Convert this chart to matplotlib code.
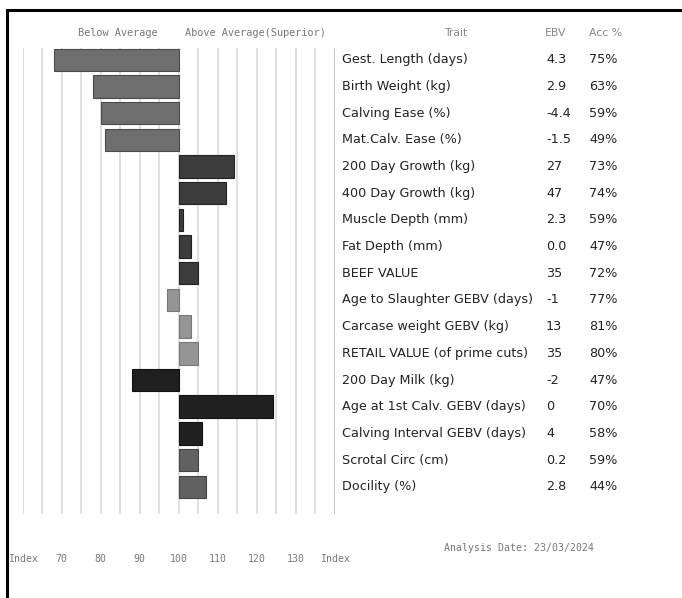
import matplotlib
matplotlib.use("Agg")
import matplotlib.pyplot as plt
from matplotlib.transforms import blended_transform_factory
from matplotlib.lines import Line2D

# Dati del grafico
tratti = ["Gest. Length (days)", "Birth Weight (kg)", "Calving Ease (%)", "Mat.Calv. Ease (%)",
          "200 Day Growth (kg)", "400 Day Growth (kg)", "Muscle Depth (mm)", "Fat Depth (mm)",
          "BEEF VALUE", "Age to Slaughter GEBV (days)", "Carcase weight GEBV (kg)",
          "RETAIL VALUE (of prime cuts)", "200 Day Milk (kg)", "Age at 1st Calv. GEBV (days)",
          "Calving Interval GEBV (days)", "Scrotal Circ (cm)", "Docility (%)"]
ebv = ["4.3", "2.9", "-4.4", "-1.5", "27", "47", "2.3", "0.0", "35", "-1", "13", "35",
       "-2", "0", "4", "0.2", "2.8"]
accuratezza = ["75%", "63%", "59%", "49%", "73%", "74%", "59%", "47%", "72%", "77%", "81%",
               "80%", "47%", "70%", "58%", "59%", "44%"]
indice = [68, 78, 80, 81, 114, 112, 101, 103, 105, 97, 103, 105, 88, 124, 106, 105, 107]
gruppo = [0, 0, 0, 0, 1, 1, 1, 1, 1, 2, 2, 2, 3, 3, 3, 4, 4]

tick_pos = [60, 70, 80, 90, 100, 110, 120, 130, 140]
tick_lab = ["Index", "70", "80", "90", "100", "110", "120", "130", "Index"]

colori = ["#6e6e6e", "#3c3c3c", "#959595", "#202020", "#616161"]
bordi = ["#4a4a4a", "#222222", "#777777", "#111111", "#444444"]

W, H = 682, 598
fig = plt.figure(figsize=(W / 100, H / 100), dpi=100)
fig.patch.set_facecolor("white")

# Assi: x da 60 a 140, pixel 22.7 -> 335
ax = fig.add_axes([22.7 / W, 1 - 514 / H, (335 - 22.7) / W, (514 - 48) / H])
for s in ax.spines.values():
    s.set_visible(False)

# Griglia verticale
for g in range(60, 141, 5):
    ax.axvline(g, color="#c4c4c4" if g == 140 else "#e0e0e0", lw=1.4, zorder=0)

y = list(range(len(tratti)))
for i, v in enumerate(indice):
    ax.barh(i, v - 100, left=100, height=0.84, color=colori[gruppo[i]],
            edgecolor=bordi[gruppo[i]], linewidth=0.8, zorder=2)

mono = "DejaVu Sans Mono"
ax.set_xlim(60, 140)
ax.set_ylim(17.02, -0.44)
ax.set_yticks([])
ax.set_xticks(tick_pos)
ax.set_xticklabels(tick_lab, fontsize=7.1, color="#777777", family=mono)
ax.tick_params(axis="x", length=0, pad=29)

# Testo a destra: tratti, EBV, accuratezza
tr = blended_transform_factory(fig.transFigure, ax.transData)
fs = 9.2
for i in y:
    ax.text(342 / W, i, tratti[i], transform=tr, fontsize=fs, family="DejaVu Sans",
            color="#222222", va="center", ha="left", clip_on=False)
    ax.text(546 / W, i, ebv[i], transform=tr, fontsize=fs, family="DejaVu Sans",
            color="#222222", va="center", ha="left", clip_on=False)
    ax.text(589 / W, i, accuratezza[i], transform=tr, fontsize=fs, family="DejaVu Sans",
            color="#222222", va="center", ha="left", clip_on=False)

# Intestazioni
yh = 1 - 33 / H
fig.text(117.5 / W, yh, "Below Average", fontsize=7.4, color="#777777", ha="center",
         va="center", family=mono)
fig.text(255.5 / W, yh, "Above Average(Superior)", fontsize=7.4, color="#777777",
         ha="center", va="center", family=mono)
fig.text(456 / W, yh, "Trait", fontsize=7.8, color="#888888", ha="center", va="center")
fig.text(545 / W, yh, "EBV", fontsize=7.8, color="#888888", ha="left", va="center")
fig.text(589 / W, yh, "Acc %", fontsize=7.8, color="#888888", ha="left", va="center")

fig.text(518.5 / W, 1 - 548 / H, "Analysis Date: 23/03/2024", fontsize=7.1, color="#777777",
         ha="center", va="center", family=mono)

# Cornice nera (lati sinistro e superiore)
fig.add_artist(Line2D([7 / W, 7 / W], [0, 1 - 10 / H], color="black", lw=2.2,
                      transform=fig.transFigure))
fig.add_artist(Line2D([7 / W, 1], [1 - 10 / H, 1 - 10 / H], color="black", lw=2.2,
                      transform=fig.transFigure))

fig.savefig("out.png", dpi=100)
